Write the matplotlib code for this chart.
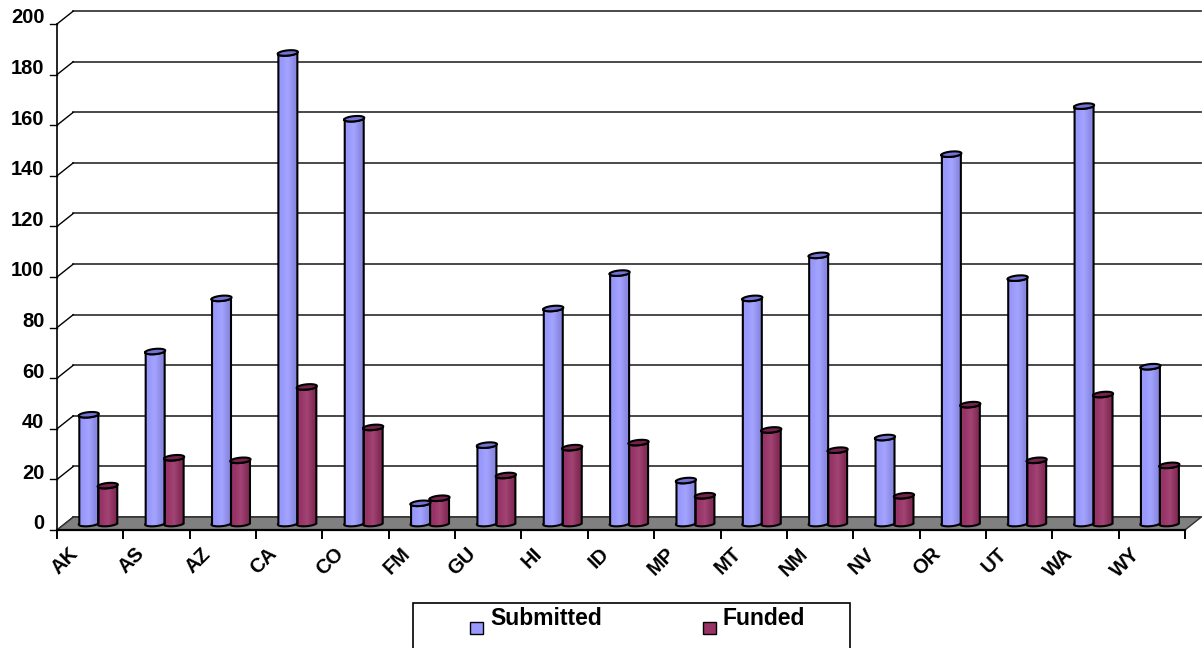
import numpy as np
import matplotlib
matplotlib.use("Agg")
import matplotlib.pyplot as plt
from matplotlib.patches import Polygon, Rectangle
from matplotlib.colors import LinearSegmentedColormap

plt.rcParams['font.family'] = ['Liberation Sans', 'DejaVu Sans']
plt.rcParams['font.weight'] = 'bold'

# proposals per state / territory
states = ['AK', 'AS', 'AZ', 'CA', 'CO', 'FM', 'GU', 'HI', 'ID',
          'MP', 'MT', 'NM', 'NV', 'OR', 'UT', 'WA', 'WY']
submitted = [43, 68, 89, 186, 160, 8, 31, 85, 99, 17, 89, 106, 34, 146, 97, 165, 62]
funded = [15, 26, 25, 54, 38, 10, 19, 30, 32, 11, 37, 29, 11, 47, 25, 51, 23]
y_ticks = list(range(0, 201, 20))

# oblique "3-D" geometry in data units (x: categories, y: values)
DEPTH_X, DEPTH_Y = 0.245, 5.1          # front plane -> back wall
MID_X, MID_Y = DEPTH_X / 2, DEPTH_Y / 2  # row of bars sits half way
RADIUS = 0.143
CAP_DX, CAP_DY = 0.05, 1.1

BLUE = LinearSegmentedColormap.from_list(
    'blue', ['#9a9aff', '#9898fc', '#a4a4ff', '#8a8ae4', '#8585dc'])
PLUM = LinearSegmentedColormap.from_list(
    'plum', ['#9a3468', '#973366', '#a24474', '#852c58', '#7d2953'])


def ellipse(xc, yc, t):
    return np.column_stack([xc + RADIUS * np.cos(t) + CAP_DX * np.sin(t),
                            yc + CAP_DY * np.sin(t)])


def cylinder(ax, xc, value, cmap, cap_color):
    y0 = MID_Y
    y1 = MID_Y + value
    front = np.linspace(np.pi, 2 * np.pi, 40)
    body = np.vstack([ellipse(xc, y0, front), ellipse(xc, y1, front[::-1])])
    patch = Polygon(body, closed=True, facecolor='none', edgecolor='none')
    ax.add_patch(patch)
    grad = np.linspace(0, 1, 64).reshape(1, -1)
    im = ax.imshow(grad, cmap=cmap, aspect='auto', interpolation='bilinear',
                   extent=(xc - RADIUS - CAP_DX, xc + RADIUS + CAP_DX,
                           y0 - CAP_DY, y1 + CAP_DY), zorder=3)
    im.set_clip_path(patch)
    ax.add_patch(Polygon(body, closed=True, facecolor='none',
                         edgecolor='black', lw=1.5, zorder=4))
    full = np.linspace(0, 2 * np.pi, 60)
    ax.add_patch(Polygon(ellipse(xc, y1, full), closed=True,
                         facecolor=cap_color, edgecolor='black', lw=1.5, zorder=5))


fig = plt.figure(figsize=(12.04, 6.48), dpi=100)
ax = fig.add_axes([0, 0, 1, 1])
ax.set_axis_off()

n = len(states)
x_right = n + DEPTH_X

# back wall gridlines and the diagonals on the side wall
for v in y_ticks:
    ax.plot([DEPTH_X, x_right], [v + DEPTH_Y, v + DEPTH_Y],
            color='#3a3a3a', lw=1.3, zorder=1)
    ax.plot([0, DEPTH_X], [v, v + DEPTH_Y], color='black', lw=1.0, zorder=1)
    ax.plot([-0.1, 0], [v, v], color='black', lw=1.0, zorder=1)
    ax.text(-0.19, v + 2.4, str(v), ha='right', va='center', fontsize=14.5,
            fontweight='bold')

# floor
ax.add_patch(Polygon([(0, 0), (n, 0), (x_right, DEPTH_Y), (DEPTH_X, DEPTH_Y)],
                     closed=True, facecolor='#808080', edgecolor='#303030',
                     lw=1.0, zorder=2))

# front axes
ax.plot([0, 0], [0, 200], color='black', lw=1.2, zorder=2)
ax.plot([0, n], [0, 0], color='black', lw=1.6, zorder=6)
for i in range(n + 1):
    ax.plot([i, i], [0, -3.0], color='black', lw=1.4, zorder=6)
for i, s in enumerate(states):
    ax.text(i + 0.17, -5.6, s, rotation=45, rotation_mode='anchor',
            ha='right', va='top', fontsize=14.5, fontweight='bold')

# bars
for i in range(n):
    xc = i + 0.5 + MID_X
    cylinder(ax, xc - RADIUS, submitted[i], BLUE, '#7373d4')
    cylinder(ax, xc + RADIUS, funded[i], PLUM, '#74244c')

ax.set_xlim(-57 / 66.35, (1204 - 57) / 66.35)
ax.set_ylim((530 - 648) / 2.53, 530 / 2.53)

# legend box, cut off by the bottom edge
fig.patches.append(Rectangle((413 / 1204, -0.05), 437 / 1204, 0.05 + 45 / 648,
                             transform=fig.transFigure, facecolor='white',
                             edgecolor='black', lw=1.2, clip_on=False))
for mx, tx, label, col in [(470, 490, 'Submitted', '#9999ff'),
                           (703, 723, 'Funded', '#993366')]:
    fig.patches.append(Rectangle((mx / 1204, 14 / 648), 13 / 1204, 12 / 648,
                                 transform=fig.transFigure, facecolor=col,
                                 edgecolor='black', lw=1.0))
    fig.text(tx / 1204, 23 / 648, label, ha='left', va='baseline',
             fontsize=16.5, fontweight='bold')

fig.savefig('out.png', dpi=100)
